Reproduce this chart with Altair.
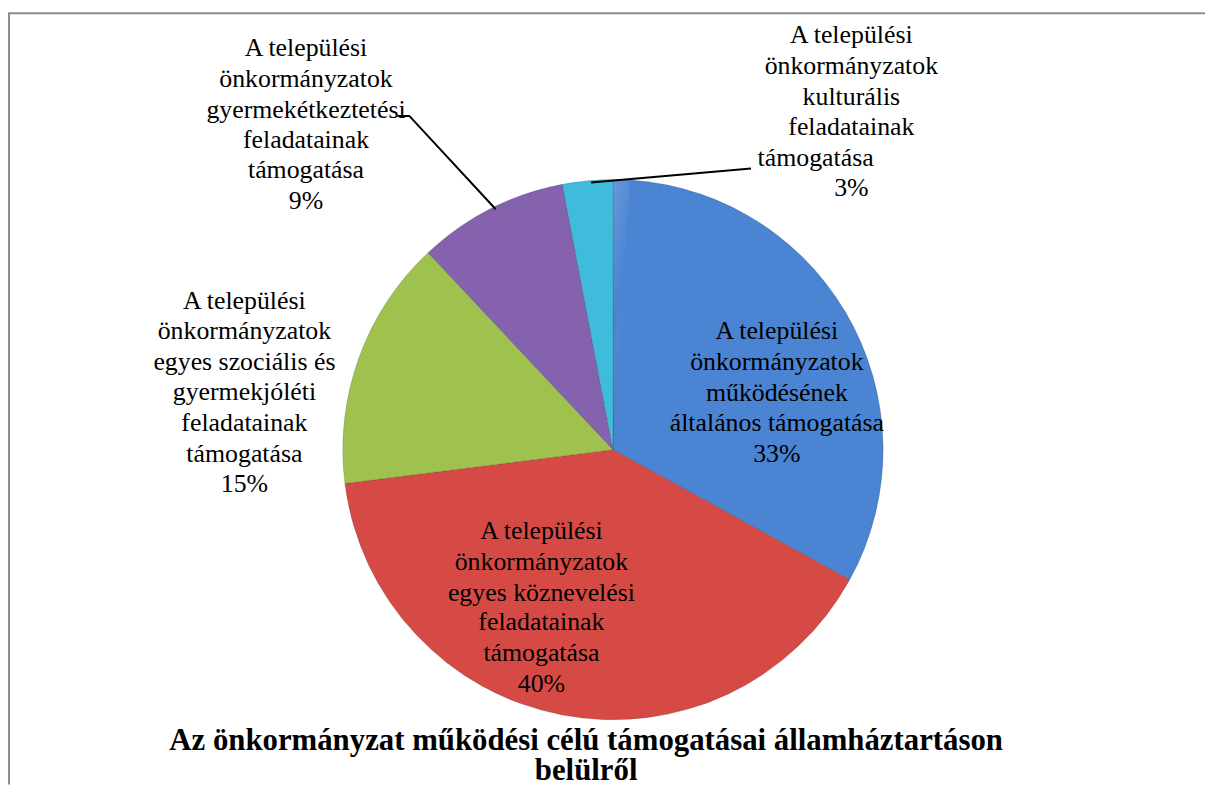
import altair as alt
import pandas as pd

# ---------------- data ----------------
CATEGORIES = [
    "A települési önkormányzatok működésének általános támogatása",
    "A települési önkormányzatok egyes köznevelési feladatainak támogatása",
    "A települési önkormányzatok egyes szociális és gyermekjóléti feladatainak támogatása",
    "A települési önkormányzatok gyermekétkeztetési feladatainak támogatása",
    "A települési önkormányzatok kulturális feladatainak támogatása",
]
VALUES = [33, 40, 15, 9, 3]
PCT_LABELS = ["33%", "40%", "15%", "9%", "3%"]
LABEL_LINES = [
    ["A települési", "önkormányzatok", "működésének", "általános támogatása"],
    ["A települési", "önkormányzatok", "egyes köznevelési", "feladatainak", "támogatása"],
    ["A települési", "önkormányzatok", "egyes szociális és", "gyermekjóléti", "feladatainak", "támogatása"],
    ["A települési", "önkormányzatok", "gyermekétkeztetési", "feladatainak", "támogatása"],
    ["A települési", "önkormányzatok", "kulturális", "feladatainak", "támogatása"],
]
TITLE_LINES = ["Az önkormányzat működési célú támogatásai államháztartáson", "belülről"]
COLORS = ["#4a84d2", "#d64a45", "#9fc24e", "#8462ae", "#3fbcdc"]

# ---------------- layout (page px, converted to view px) ----------------
OX, OY = 8, 8
W, H = 1205, 779
CX, CY, R = 617 - OX, 450 - OY, 272
FONT = "Liberation Serif"
FS = 26
LINE_H = 30.8
BASE_SHIFT = 0
# (centre x, first-line y) per label, page px
LABEL_POS = [(782, 331), (545, 532), (246, 300), (308, 46), (857, 33)]
# per-line horizontal shifts (label index, line index) -> dx
LINE_DX = {(4, 4): -36}
LEADERS = [
    [(400, 114), (412, 114), (499, 208)],
    [(595, 181), (756, 167)],
]

pie_df = pd.DataFrame({"cat": CATEGORIES, "value": VALUES, "idx": list(range(len(VALUES)))})

rows = []
for i, (lines, pct) in enumerate(zip(LABEL_LINES, PCT_LABELS)):
    cx, y0 = LABEL_POS[i]
    for j, t in enumerate(lines + [pct]):
        rows.append({"label": t,
                     "px": int(round(cx - OX + LINE_DX.get((i, j), 0))),
                     "py": int(round(y0 - OY + j * LINE_H + BASE_SHIFT))})
lab_df = pd.DataFrame(rows)

lead_rows = []
for k, pts in enumerate(LEADERS):
    for o, (x, y) in enumerate(pts):
        lead_rows.append({"g": k, "o": o, "px": x - OX, "py": y - OY})
lead_df = pd.DataFrame(lead_rows)

title_df = pd.DataFrame({"label": TITLE_LINES,
                         "px": [590 - OX] * 2,
                         "py": [743 - OY, 774 - OY]})

pie = alt.Chart(pie_df).mark_arc(radius=R, stroke="#000000", strokeOpacity=0.15, strokeWidth=1).encode(
    theta=alt.Theta("value:Q", stack=True),
    order=alt.Order("idx:Q"),
    color=alt.Color("cat:N", scale=alt.Scale(domain=CATEGORIES, range=COLORS), legend=None),
    x=alt.value(CX), y=alt.value(CY),
)

one = pd.DataFrame({"a": [1]})
shade = alt.Chart(one).mark_arc(
    radius=R,
    fill=alt.LinearGradient(gradient="linear", x1=0, y1=0, x2=0.3, y2=1, stops=[
        alt.GradientStop(color="rgba(255,255,255,0.16)", offset=0),
        alt.GradientStop(color="rgba(255,255,255,0)", offset=0.5),
        alt.GradientStop(color="rgba(0,0,0,0.14)", offset=1),
    ]),
).encode(theta=alt.Theta("a:Q"), x=alt.value(CX), y=alt.value(CY))

labels = alt.Chart(lab_df).mark_text(font=FONT, fontSize=FS, align="center").encode(
    x=alt.X("px:Q", scale=None), y=alt.Y("py:Q", scale=None), text="label:N")

leaders = alt.Chart(lead_df).mark_line(color="#000000", strokeWidth=2).encode(
    x=alt.X("px:Q", scale=None), y=alt.Y("py:Q", scale=None),
    detail="g:N", order="o:Q")

title = alt.Chart(title_df).mark_text(font=FONT, fontSize=31, fontWeight="bold", align="center").encode(
    x=alt.X("px:Q", scale=None), y=alt.Y("py:Q", scale=None), text="label:N")

frame_top = alt.Chart(one).mark_rule(color="#8c8c8c", strokeWidth=2).encode(
    x=alt.value(0), x2=alt.value(W), y=alt.value(2.8))
frame_left = alt.Chart(one).mark_rule(color="#8c8c8c", strokeWidth=2).encode(
    x=alt.value(1), y=alt.value(2.8), y2=alt.value(H))

chart = alt.layer(pie, shade, leaders, labels, title, frame_top, frame_left).properties(
    width=W, height=H, padding=0, autosize=alt.AutoSizeParams(type="none")
).configure_view(stroke=None)

chart.save("out.html", embed_options={"renderer": "svg", "actions": False})
